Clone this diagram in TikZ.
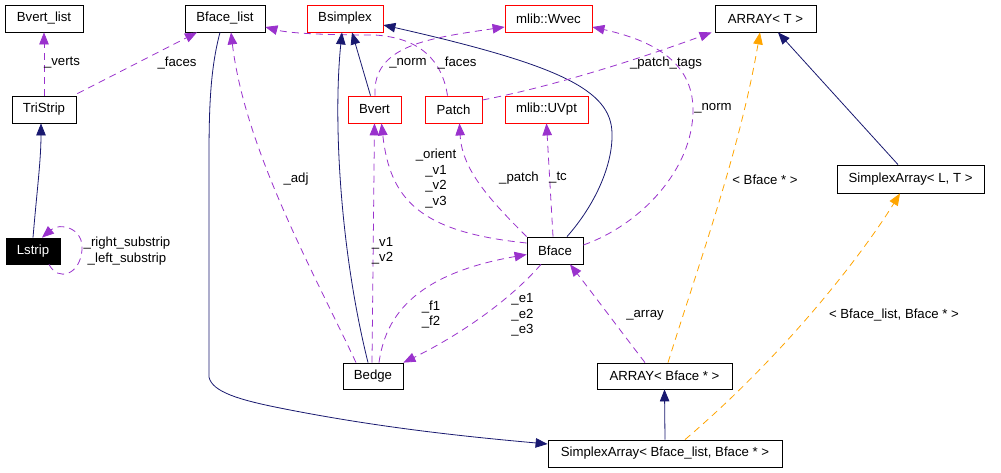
\documentclass[tikz,border=0pt]{standalone}
\usepackage{fontspec}
\setmainfont{Liberation Sans}
\usetikzlibrary{arrows.meta}
\definecolor{navy}{RGB}{25,25,112}
\definecolor{usecol}{RGB}{154,50,205}
\definecolor{tmplcol}{RGB}{255,165,0}
\tikzset{
  box/.style={draw=black, line width=0.8pt, minimum height=27pt, inner sep=0pt, font=\fontsize{13.2}{15.5}\selectfont},
  redbox/.style={box, draw=red},
  lbl/.style={inner sep=0pt, align=center, font=\fontsize{13.2}{15.5}\selectfont},
  inh/.style={draw=navy, line width=0.8pt, -{Triangle[length=12pt,width=9.5pt]}, fill=none},
  use/.style={draw=usecol, line width=0.8pt, dash pattern=on 7pt off 5pt, -{Triangle[length=12pt,width=9.5pt,fill=usecol]}},
  tmpl/.style={draw=tmplcol, line width=0.8pt, dash pattern=on 7pt off 5pt, -{Triangle[length=12pt,width=9.5pt,fill=tmplcol]}},
}
\begin{document}
\begin{tikzpicture}[x=1pt,y=-1pt]
\useasboundingbox[fill=white] (0,0) rectangle (1001,472);
% nodes
\node[box, minimum width=78pt] (bvl) at (44,18.5) {Bvert\_list};
\node[box, minimum width=80pt] (bfl) at (225,18.5) {Bface\_list};
\node[redbox, minimum width=76pt] (bsx) at (345,18.5) {Bsimplex};
\node[redbox, minimum width=87pt] (wvec) at (548.5,18.5) {mlib::Wvec};
\node[box, minimum width=101pt] (arrT) at (765.5,18.5) {ARRAY< T >};
\node[box, minimum width=64pt] (tri) at (44,109.5) {TriStrip};
\node[redbox, minimum width=53pt] (bvert) at (374.5,109.5) {Bvert};
\node[redbox, minimum width=57pt] (patch) at (453.5,109.5) {Patch};
\node[redbox, minimum width=83pt] (uvpt) at (546.5,109.5) {mlib::UVpt};
\node[box, minimum width=147pt, minimum height=28pt] (saLT) at (910.5,179) {SimplexArray< L, T >};
\node[box, fill=black, text=white, minimum width=54pt, minimum height=26pt] (lstrip) at (33,251) {Lstrip};
\node[box, minimum width=56pt] (bface) at (555,250.5) {Bface};
\node[box, minimum width=60pt, minimum height=26pt] (bedge) at (373,376) {Bedge};
\node[box, minimum width=135pt, minimum height=26pt] (arrB) at (664.5,376) {ARRAY< Bface * >};
\node[box, minimum width=234pt] (saB) at (665,453.5) {SimplexArray< Bface\_list, Bface * >};

% connectors
\draw[use] (tri.north) -- (bvl.south);
\draw[use] ([shift={(1,-2)}]tri.north east) -- ([shift={(-28,0)}]bfl.south);
\draw[inh] (lstrip.north) .. controls (37,190) and (41,160) .. ([shift={(-3,0)}]tri.south);
\draw[use] ([shift={(16,0)}]lstrip.south) .. controls (58,282) and (80,275) .. (82,250) .. controls (84,228) and (60,222) .. ([shift={(9,0)}]lstrip.north);
\draw[use] ([shift={(-6,0)}]patch.north) .. controls (442,60) and (420,38) .. (375,35) .. controls (320,35) and (288,33) .. ([shift={(0,8.5)}]bfl.east);
\draw[inh] ([shift={(-4,0)}]bvert.north) -- ([shift={(7,0)}]bsx.south);
\draw[inh] ([shift={(-5,0)}]bedge.north) .. controls (340,250) and (333,120) .. ([shift={(-3,0)}]bsx.south);
\draw[inh] ([shift={(12,0)}]bface.north) .. controls (595,205) and (613,165) .. (612,133) .. controls (611,90) and (560,65) .. ([shift={(0,6.5)}]bsx.east);
\draw[use] ([shift={(-17,0)}]bedge.north) .. controls (315,275) and (245,150) .. ([shift={(6,0)}]bfl.south);
\draw[inh] ([shift={(-5,0)}]bfl.south) .. controls (210,70) and (209,110) .. (209,160) -- (209,377) .. controls (212,392) and (240,400) .. (280,408) .. controls (380,428) and (470,437) .. ([shift={(0,-9.5)}]saB.west);
\draw[use] ([shift={(0.5,0)}]bvert.north) .. controls (372,45) and (430,38) .. ([shift={(0,8.5)}]wvec.west);
\draw[use] ([shift={(0,-5.5)}]bface.east) .. controls (640,225) and (693,170) .. (693,110) .. controls (693,60) and (650,40) .. ([shift={(0,8.5)}]wvec.east);
\draw[use] ([shift={(0,-9.5)}]patch.east) .. controls (560,85) and (650,55) .. ([shift={(-3,0)}]arrT.south west);
\draw[tmpl] ([shift={(3.5,0)}]arrB.north) .. controls (700,260) and (740,150) .. ([shift={(-5.5,0)}]arrT.south);
\draw[inh] ([shift={(-12.5,0)}]saLT.north) -- ([shift={(12.5,0)}]arrT.south);
\draw[tmpl] ([shift={(20,0)}]saB.north) .. controls (790,350) and (865,250) .. ([shift={(-10.5,0)}]saLT.south);
\draw[inh] (saB.north) -- (arrB.south);
\draw[use] ([shift={(-19.5,0)}]arrB.north) .. controls (620,330) and (590,290) .. ([shift={(15,0)}]bface.south);
\draw[use] ([shift={(0,-7.5)}]bface.west) .. controls (420,232) and (390,200) .. ([shift={(7,0)}]bvert.south);
\draw[use] ([shift={(-1,0)}]bedge.north) -- (bvert.south);
\draw[use] (bface.north west) .. controls (490,200) and (462,170) .. ([shift={(6,0)}]patch.south);
\draw[use] ([shift={(-2,0)}]bface.north) -- (uvpt.south);
\draw[use] ([shift={(6,0)}]bedge.north) .. controls (385,320) and (410,275) .. ([shift={(0,4)}]bface.west);
\draw[use] ([shift={(-14,0)}]bface.south) .. controls (510,300) and (460,335) .. (bedge.north east);

% labels
\node[lbl] (l1) at (62,63) {\_verts};
\node[lbl] (l2) at (177,63) {\_faces};
\node[lbl] (l3) at (127,251) {\_right\_substrip\\\_left\_substrip};
\node[lbl] (l4) at (408,63) {\_norm};
\node[lbl] (l5) at (457,63) {\_faces};
\node[lbl] (l6) at (296,179) {\_adj};
\node[lbl] (l7) at (666,63) {\_patch\_tags};
\node[lbl] (l8) at (713,108) {\_norm};
\node[lbl] (l9) at (765,180) {< Bface * >};
\node[lbl] (l10) at (436,178.5) {\_orient\\\_v1\\\_v2\\\_v3};
\node[lbl] (l11) at (519,178) {\_patch};
\node[lbl] (l12) at (558,178) {\_tc};
\node[lbl] (l13) at (382.5,251) {\_v1\\\_v2};
\node[lbl] (l14) at (431,314.5) {\_f1\\\_f2};
\node[lbl] (l15) at (522.5,315) {\_e1\\\_e2\\\_e3};
\node[lbl] (l16) at (645,315) {\_array};
\node[lbl] (l17) at (894,315) {< Bface\_list, Bface * >};
\end{tikzpicture}
\end{document}
